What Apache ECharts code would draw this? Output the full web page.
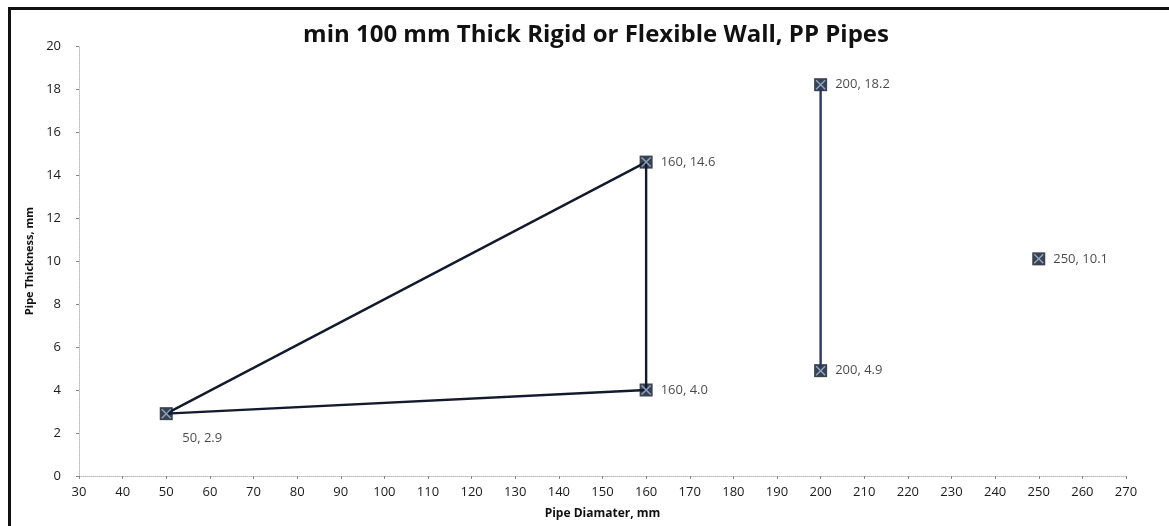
<!DOCTYPE html>
<html>
<head>
<meta charset="utf-8">
<script src="https://cdn.jsdelivr.net/npm/echarts@6/dist/echarts.min.js"></script>
<style>
  * { margin: 0; padding: 0; }
  body { background: #fff; }
  #main { width: 1169px; height: 526px; }
</style>
</head>
<body>
<div id="main"></div>
<script>
  // data
  var triangle = [[50, 2.9], [160, 14.6], [160, 4.0], [50, 2.9]];
  var pair200 = [[200, 18.2], [200, 4.9]];
  var single250 = [[250, 10.1]];

  var xMin = 30, xMax = 270, xStep = 10;
  var yMin = 0, yMax = 20, yStep = 2;

  var font = '"Open Sans", "DejaVu Sans", sans-serif';
  var crossPath = 'path://M0,1 L1,0 L5,4 L9,0 L10,1 L6,5 L10,9 L9,10 L5,6 L1,10 L0,9 L4,5 Z';

  function fmt(v) {
    return v[0] + ', ' + v[1].toFixed(1);
  }

  // points with a marker + label on the right (the 50 point is labelled below)
  var rightLabelled = [triangle[1], triangle[2]].concat(pair200, single250);
  var allPoints = [triangle[0]].concat(rightLabelled);

  var chart = echarts.init(document.getElementById('main'));
  chart.setOption({
    animation: false,
    title: {
      text: 'min 100 mm Thick Rigid or Flexible Wall, PP Pipes',
      left: 591,
      textAlign: 'center',
      top: 18,
      textStyle: { fontFamily: font, fontSize: 24, fontWeight: 'bold', color: '#111' }
    },
    grid: { left: 79, right: 43, top: 46, bottom: 50 },
    xAxis: {
      type: 'value', min: xMin, max: xMax, interval: xStep,
      name: 'Pipe Diamater, mm', nameLocation: 'middle', nameGap: 32,
      nameTextStyle: { fontFamily: font, fontSize: 12, fontWeight: 'bold', color: '#111' },
      axisLine: { lineStyle: { color: '#bbb', type: 'dotted' } },
      axisTick: { show: true, length: 3, lineStyle: { color: '#888' } },
      axisLabel: { fontFamily: font, fontSize: 13, color: '#1a1a1a', margin: 10 },
      splitLine: { show: false }
    },
    yAxis: {
      type: 'value', min: yMin, max: yMax, interval: yStep,
      name: 'Pipe Thickness, mm', nameLocation: 'middle', nameGap: 42,
      nameTextStyle: { fontFamily: font, fontSize: 11, fontWeight: 'bold', color: '#111' },
      axisLine: { show: true, lineStyle: { color: '#bbb', type: 'dotted' } },
      axisTick: { show: true, length: 3, lineStyle: { color: '#888' } },
      axisLabel: { fontFamily: font, fontSize: 13, color: '#1a1a1a', margin: 18 },
      splitLine: { show: false }
    },
    graphic: [
      { type: 'rect', shape: { x: 8, y: 7, width: 1161, height: 3 }, style: { fill: '#111' } },
      { type: 'rect', shape: { x: 8, y: 7, width: 3, height: 519 }, style: { fill: '#111' } }
    ],
    series: [
      {
        type: 'line', data: triangle, symbol: 'none',
        lineStyle: { color: '#141a2e', width: 2.4 }
      },
      {
        type: 'line', data: pair200, symbol: 'none',
        lineStyle: { color: '#2c3966', width: 2.4 }
      },
      {
        type: 'scatter', data: rightLabelled, symbol: 'rect', symbolSize: 13,
        itemStyle: { color: '#0b1120' },
        label: {
          show: true, position: 'right', distance: 8,
          fontFamily: font, fontSize: 13, color: '#1a1a1a',
          formatter: function (p) { return fmt(p.value); }
        }
      },
      {
        type: 'scatter', data: [triangle[0]], symbol: 'rect', symbolSize: 13,
        itemStyle: { color: '#0b1120' },
        label: {
          show: true, position: 'bottom', distance: 10, offset: [36, 2],
          fontFamily: font, fontSize: 13, color: '#1a1a1a',
          formatter: function (p) { return fmt(p.value); }
        }
      },
      {
        type: 'scatter', data: allPoints, symbol: crossPath, symbolSize: 10,
        itemStyle: { color: '#9cc3e8' }, z: 5
      }
    ]
  });
</script>
</body>
</html>
